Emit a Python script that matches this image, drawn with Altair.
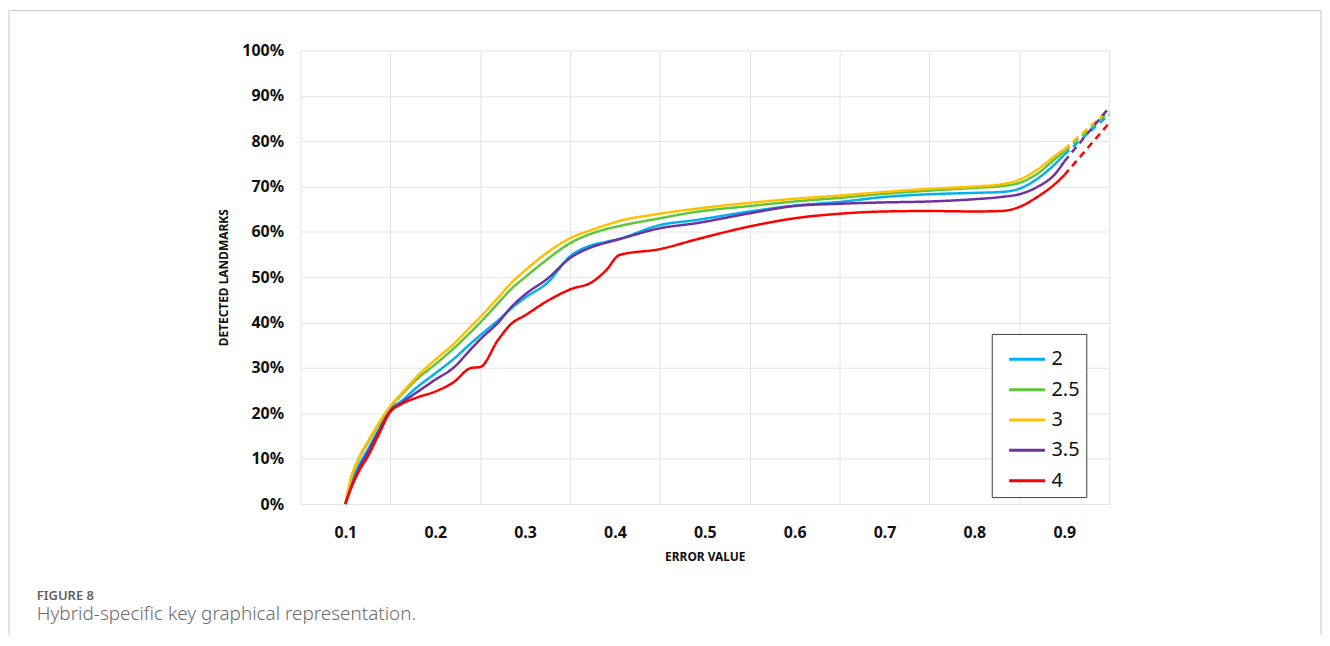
import altair as alt
import pandas as pd

SERIES = ["2", "2.5", "3", "3.5", "4"]
COLORS = ["#00B0F0", "#5EC63A", "#FFC000", "#7030A0", "#FF0000"]

X_VALUES = [0.10, 0.105, 0.115, 0.125, 0.137, 0.15, 0.163, 0.18, 0.20, 0.22, 0.24,
            0.25, 0.27, 0.285, 0.30, 0.325, 0.35, 0.375, 0.39, 0.405, 0.45, 0.49,
            0.55, 0.60, 0.65, 0.70, 0.75, 0.80, 0.83, 0.85, 0.87, 0.89, 0.90]

Y_2 = [0.0, 0.036, 0.085, 0.120, 0.163, 0.208, 0.228, 0.258, 0.288, 0.319, 0.355,
       0.372, 0.405, 0.432, 0.455, 0.488, 0.546, 0.571, 0.578, 0.585, 0.615, 0.626,
       0.645, 0.658, 0.666, 0.677, 0.683, 0.686, 0.688, 0.695, 0.717, 0.750, 0.770]
Y_25 = [0.0, 0.046, 0.100, 0.135, 0.175, 0.214, 0.242, 0.276, 0.308, 0.342, 0.380,
        0.400, 0.443, 0.475, 0.500, 0.540, 0.575, 0.597, 0.606, 0.613, 0.630, 0.644,
        0.657, 0.667, 0.675, 0.684, 0.691, 0.697, 0.701, 0.708, 0.728, 0.761, 0.777]
Y_3 = [0.0, 0.048, 0.102, 0.138, 0.178, 0.216, 0.245, 0.282, 0.318, 0.352, 0.392,
       0.412, 0.455, 0.488, 0.515, 0.555, 0.586, 0.605, 0.615, 0.624, 0.640, 0.651,
       0.664, 0.673, 0.680, 0.688, 0.695, 0.700, 0.705, 0.715, 0.737, 0.768, 0.782]
Y_35 = [0.0, 0.030, 0.078, 0.114, 0.160, 0.206, 0.224, 0.247, 0.274, 0.300, 0.342,
        0.363, 0.400, 0.435, 0.462, 0.497, 0.542, 0.567, 0.576, 0.584, 0.608, 0.619,
        0.641, 0.657, 0.662, 0.665, 0.667, 0.672, 0.677, 0.683, 0.699, 0.728, 0.755]
Y_4 = [0.0, 0.028, 0.072, 0.105, 0.153, 0.203, 0.221, 0.235, 0.248, 0.268, 0.300,
       0.302, 0.362, 0.398, 0.416, 0.448, 0.473, 0.490, 0.515, 0.549, 0.562, 0.583,
       0.612, 0.630, 0.640, 0.645, 0.646, 0.645, 0.646, 0.655, 0.677, 0.706, 0.725]

DASH_END_X = 0.95
DASH_END_Y = [0.859, 0.865, 0.870, 0.874, 0.840]

X_TICKS = [0.1, 0.2, 0.3, 0.4, 0.5, 0.6, 0.7, 0.8, 0.9]
X_GRID = [0.05, 0.15, 0.25, 0.35, 0.45, 0.55, 0.65, 0.75, 0.85, 0.95]
Y_TICKS = [0.0, 0.1, 0.2, 0.3, 0.4, 0.5, 0.6, 0.7, 0.8, 0.9, 1.0]

CAPTION_LABEL = "FIGURE 8"
CAPTION_TEXT = "Hybrid-specific key graphical representation."

rows = []
for name, ys, yend in zip(SERIES, [Y_2, Y_25, Y_3, Y_35, Y_4], DASH_END_Y):
    for xv, yv in zip(X_VALUES, ys):
        rows.append({"x": xv, "y": yv, "series": name, "seg": "solid"})
    rows.append({"x": X_VALUES[-1], "y": ys[-1], "series": name, "seg": "dash"})
    rows.append({"x": DASH_END_X, "y": yend, "series": name, "seg": "dash"})
df = pd.DataFrame(rows)

axis_vals = sorted(set(X_TICKS + X_GRID))

FONT = "Noto Sans"

x_enc = alt.X(
    "x:Q",
    scale=alt.Scale(domain=[0.05, 0.95], nice=False, zero=False),
    axis=alt.Axis(
        values=axis_vals,
        ticks=False,
        domain=False,
        grid=True,
        gridColor="#e4e4e4",
        gridOpacity={"condition": {"test": "round(datum.value*100) % 10 == 5", "value": 1}, "value": 0},
        labelExpr="round(datum.value*100) % 10 == 0 ? format(datum.value, '.1f') : ''",
        labelOverlap=False,
        labelFont=FONT,
        labelFontSize=16,
        labelFontWeight="bold",
        labelColor="#111111",
        labelPadding=21,
        title="ERROR VALUE",
        titleFont=FONT,
        titleFontSize=12,
        titleFontWeight="bold",
        titleColor="#111111",
        titlePadding=11,
    ),
)
y_enc = alt.Y(
    "y:Q",
    scale=alt.Scale(domain=[0, 1], nice=False),
    axis=alt.Axis(
        values=Y_TICKS,
        format=".0%",
        ticks=False,
        domain=False,
        grid=True,
        gridColor="#e4e4e4",
        labelFont=FONT,
        labelFontSize=16,
        labelFontWeight="bold",
        labelColor="#111111",
        labelPadding=17,
        title="DETECTED LANDMARKS",
        titleFont=FONT,
        titleFontSize=12,
        titleFontWeight="bold",
        titleColor="#111111",
        titlePadding=11,
    ),
)

lines = alt.Chart(df).mark_line(strokeWidth=2.5, interpolate="monotone").encode(
    x=x_enc,
    y=y_enc,
    color=alt.Color(
        "series:N",
        scale=alt.Scale(domain=SERIES, range=COLORS),
        legend=alt.Legend(
            title=None,
            orient="none",
            legendX=695,
            legendY=285,
            symbolType="stroke",
            symbolSize=1296,
            symbolStrokeWidth=3,
            symbolOffset=10,
            labelOffset=5,
            labelFont=FONT,
            labelFontSize=20,
            labelColor="#111111",
            rowPadding=0.5,
            padding=6,
            fillColor="white",
            strokeColor="#404040",
        ),
    ),
    strokeDash=alt.StrokeDash(
        "seg:N",
        scale=alt.Scale(domain=["solid", "dash"], range=[[1, 0], [7, 5]]),
        legend=None,
    ),
    order=alt.Order("x:Q"),
)

frame_df = pd.DataFrame({"k": [0]})
frame_left = alt.Chart(frame_df).mark_rule(color="#c8c8c8", strokeWidth=1).encode(
    x=alt.value(-293), y=alt.value(-40), y2=alt.value(588)
)
frame_right = alt.Chart(frame_df).mark_rule(color="#c8c8c8", strokeWidth=1).encode(
    x=alt.value(1026), y=alt.value(-40), y2=alt.value(588)
)
frame_top = alt.Chart(frame_df).mark_rule(color="#c8c8c8", strokeWidth=1).encode(
    x=alt.value(-293), x2=alt.value(1026), y=alt.value(-40)
)

cap1 = alt.Chart(pd.DataFrame({"t": [CAPTION_LABEL]})).mark_text(
    align="left", baseline="alphabetic", font=FONT, fontSize=13, fontWeight=600, color="#5f5f5f"
).encode(x=alt.value(-265), y=alt.value(552), text="t:N")
cap2 = alt.Chart(pd.DataFrame({"t": [CAPTION_TEXT]})).mark_text(
    align="left", baseline="alphabetic", font=FONT, fontSize=19, fontWeight=300, color="#6b6b6b"
).encode(x=alt.value(-265), y=alt.value(573), text="t:N")

chart = alt.layer(frame_left, frame_right, frame_top, lines, cap1, cap2).properties(
    width=813, height=456, padding=0
).configure_view(strokeWidth=0)

chart.save("out.html", embed_options={"renderer": "svg", "actions": False})
